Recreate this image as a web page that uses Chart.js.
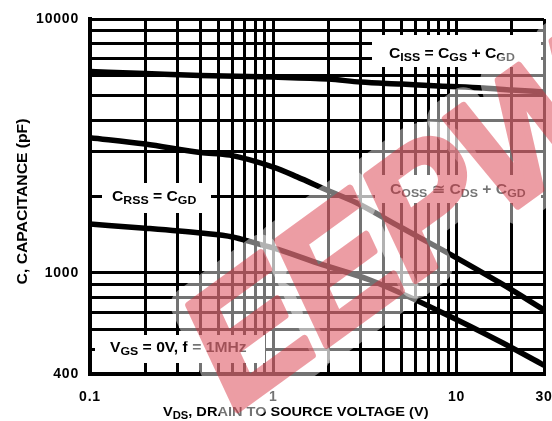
<!DOCTYPE html>
<html><head><meta charset="utf-8">
<script src="https://cdn.jsdelivr.net/npm/chart.js@4.4.1/dist/chart.umd.min.js"></script>
<style>html,body{margin:0;padding:0;background:#fff}#wrap{width:552px;height:421px;position:relative}</style>
</head><body><div id="wrap"><canvas id="c"></canvas></div>
<script>
// ---- data ----
const vCiss = [0.1, 0.2, 0.4, 1, 2, 3, 5, 8, 14, 20, 30];
const cCiss = [6210, 6100, 5990, 5906, 5800, 5645, 5544, 5445, 5344, 5252, 5160];

const vCoss = [0.1, 0.2, 0.4, 0.58, 1.0, 1.35, 1.96, 2.86, 4.9, 8.4, 17.3, 30];
const cCoss = [3410, 3220, 2980, 2910, 2610, 2390, 2120, 1885, 1520, 1230, 913, 715];

const vCrss = [0.1, 0.2, 0.4, 0.6, 0.8, 1.0, 1.87, 3.37, 8.43, 17.9, 30];
const cCrss = [1558, 1501, 1436, 1386, 1310, 1255, 1075, 938, 696, 530, 433];

const xGrid = [0.1,0.2,0.3,0.4,0.5,0.6,0.7,0.8,0.9,1,2,3,4,5,6,7,8,9,10,20,30];
const xLabels = [0.1, 1, 10, 30];
const yGrid = [400,500,600,700,800,900,1000,2000,3000,4000,5000,6000,7000,8000,9000,10000];
const yLabels = [400, 1000, 10000];

const FONT = '"Liberation Sans", Arial, Helvetica, sans-serif';
const STRETCH = 1.12;

function pts(vs, cs) { return vs.map((v, i) => ({ x: v, y: cs[i] })); }

function drawRich(ctx, x, y, parts, size, subSize) {
  ctx.save();
  ctx.translate(x, y);
  ctx.scale(STRETCH, 1);
  let cx = 0;
  ctx.fillStyle = '#000';
  ctx.textBaseline = 'alphabetic';
  ctx.textAlign = 'left';
  for (const p of parts) {
    ctx.font = 'bold ' + (p.s ? subSize : size) + 'px ' + FONT;
    ctx.fillText(p.t, cx, p.s ? 3 : 0);
    cx += ctx.measureText(p.t).width;
  }
  ctx.restore();
}

const annotations = [
  { box: [372, 35, 541, 67], at: [389, 58], parts: [{t:'C'},{t:'ISS',s:1},{t:' = C'},{t:'GS',s:1},{t:' + C'},{t:'GD',s:1}] },
  { box: [102, 183, 211, 213], at: [112, 201], parts: [{t:'C'},{t:'RSS',s:1},{t:' = C'},{t:'GD',s:1}] },
  { box: [375, 175, 541, 203], at: [390, 194], parts: [{t:'C'},{t:'OSS',s:1},{t:' \u2245 C'},{t:'DS',s:1},{t:' + C'},{t:'GD',s:1}] },
  { box: [95, 335, 265, 363], at: [110, 352], parts: [{t:'V'},{t:'GS',s:1},{t:' = 0V, f = 1MHz'}] }
];

const decor = {
  id: 'decor',
  beforeDraw(chart) {
    const ctx = chart.ctx;
    ctx.fillStyle = '#fff';
    ctx.fillRect(0, 0, chart.width, chart.height);
    try { ctx.letterSpacing = '0.8px'; } catch (e) {}
  },
  beforeDatasetsDraw(chart) {
    const ctx = chart.ctx;
    ctx.save();
    ctx.fillStyle = '#fff';
    for (const a of annotations) {
      const [x0, y0, x1, y1] = a.box;
      ctx.fillRect(x0, y0, x1 - x0, y1 - y0);
    }
    ctx.restore();
  },
  afterDatasetsDraw(chart) {
    const ctx = chart.ctx;
    try { ctx.letterSpacing = '0px'; } catch (e) {}
    for (const a of annotations) drawRich(ctx, a.at[0], a.at[1], a.parts, 14, 11);
    // x axis title
    drawRich(ctx, 163, 416, [{t:'V'},{t:'DS',s:1},{t:', DRAIN TO SOURCE VOLTAGE (V)'}], 13, 10);
    // y axis title
    ctx.save();
    ctx.translate(27, 201.5);
    ctx.rotate(-Math.PI / 2);
    ctx.scale(STRETCH, 1);
    ctx.font = 'bold 14px ' + FONT;
    ctx.fillStyle = '#000';
    ctx.textAlign = 'center';
    ctx.textBaseline = 'alphabetic';
    ctx.fillText('C, CAPACITANCE (pF)', 0, 0);
    ctx.restore();
  },
  afterDraw(chart) {
    const ctx = chart.ctx;
    ctx.save();
    ctx.translate(405, 232);
    ctx.rotate(-36 * Math.PI / 180);
    ctx.font = 'italic bold 165px ' + FONT;
    ctx.textAlign = 'center';
    ctx.textBaseline = 'middle';
    ctx.lineJoin = 'round';
    ctx.strokeStyle = 'rgba(255,255,255,0.45)';
    ctx.lineWidth = 36;
    ctx.strokeText('EEPW', 0, 0);
    // thicken the red letters in a layer so the alpha does not double up
    const off = document.createElement('canvas');
    off.width = chart.width; off.height = chart.height;
    const o = off.getContext('2d');
    o.translate(405, 232);
    o.rotate(-36 * Math.PI / 180);
    o.font = ctx.font;
    o.textAlign = 'center';
    o.textBaseline = 'middle';
    o.lineJoin = 'round';
    o.fillStyle = 'rgb(215,40,55)';
    o.strokeStyle = 'rgb(215,40,55)';
    o.lineWidth = 7;
    o.fillText('EEPW', 0, 0);
    o.strokeText('EEPW', 0, 0);
    ctx.restore();
    ctx.save();
    ctx.globalAlpha = 0.45;
    ctx.drawImage(off, 0, 0);
    ctx.restore();
  }
};

const lineStyle = { borderColor: '#000', borderWidth: 5.5, pointRadius: 0, fill: false, cubicInterpolationMode: 'monotone' };

new Chart(document.getElementById('c'), {
  type: 'line',
  data: {
    datasets: [
      Object.assign({ label: 'CISS', data: pts(vCiss, cCiss) }, lineStyle),
      Object.assign({ label: 'COSS', data: pts(vCoss, cCoss) }, lineStyle),
      Object.assign({ label: 'CRSS', data: pts(vCrss, cCrss) }, lineStyle)
    ]
  },
  options: {
    responsive: true,
    maintainAspectRatio: false,
    animation: false,
    devicePixelRatio: 1,
    layout: { padding: { top: 19, right: 8, left: 0, bottom: 0 } },
    plugins: { legend: { display: false }, tooltip: { enabled: false } },
    scales: {
      x: {
        type: 'logarithmic', min: 0.1, max: 30,
        afterBuildTicks(s) { s.ticks = xGrid.map(v => ({ value: v })); },
        afterFit(s) { s.height = 47; s.paddingLeft = 0; s.paddingRight = 0; },
        grid: { color: '#000', lineWidth: 3, drawTicks: false },
        border: { color: '#000', width: 4 },
        ticks: {
          autoSkip: false, maxRotation: 0, padding: 15, color: '#000',
          font: { family: FONT, size: 14, weight: 'bold' },
          callback: v => xLabels.includes(v) ? String(v) : ''
        }
      },
      y: {
        type: 'logarithmic', min: 400, max: 10000,
        afterBuildTicks(s) { s.ticks = yGrid.map(v => ({ value: v })); },
        afterFit(s) { s.width = 90; s.paddingTop = 0; s.paddingBottom = 0; },
        grid: { color: '#000', lineWidth: 3, drawTicks: false },
        border: { color: '#000', width: 4 },
        ticks: {
          autoSkip: false, padding: 11, color: '#000',
          font: { family: FONT, size: 14, weight: 'bold' },
          callback: v => yLabels.includes(v) ? String(v) : ''
        }
      }
    }
  },
  plugins: [decor]
});
</script></body></html>
